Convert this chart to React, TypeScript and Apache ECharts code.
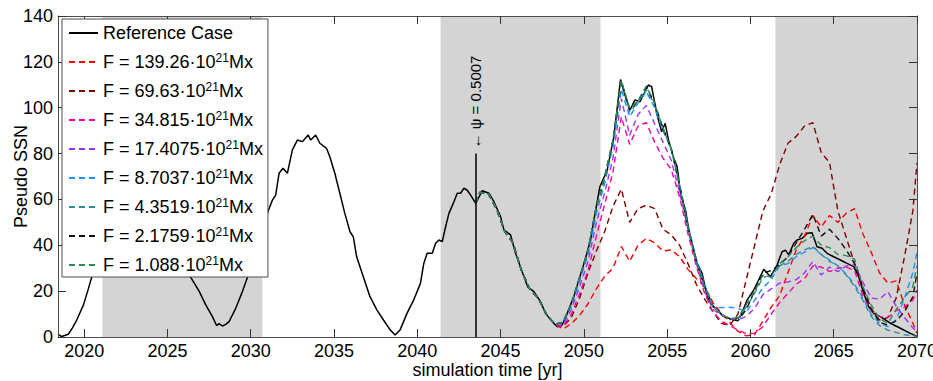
import React, { useEffect, useRef } from 'react';
import * as echarts from 'echarts';

// ---------- data ----------
const refYears = [
  2018.43, 2018.65, 2019.05, 2019.3, 2019.56, 2019.96, 2020.26, 2020.46, 2020.8, 2021.2, 2021.7, 2022.2, 2022.7,
  2023.2, 2023.7, 2024.2, 2024.7, 2025.2, 2025.7, 2026.1, 2026.4, 2026.9, 2027.3, 2027.7, 2027.95, 2028.1, 2028.3,
  2028.5, 2028.7, 2029.1, 2029.5, 2029.8, 2030.2, 2030.6, 2031.03, 2031.3, 2031.5, 2031.7, 2031.94, 2032.2, 2032.5,
  2032.8, 2033.1, 2033.45, 2033.6, 2033.9, 2034.15, 2034.55, 2034.75, 2035.05, 2035.35, 2035.65, 2035.96, 2036.16,
  2036.36, 2036.76, 2037.16, 2037.57, 2037.97, 2038.37, 2038.67, 2038.97, 2039.38, 2039.78, 2040.19, 2040.39,
  2040.59, 2040.9, 2041.1, 2041.3, 2041.5, 2041.7, 2041.9, 2042.2, 2042.4, 2042.6, 2042.8, 2043.0, 2043.2, 2043.51,
  2043.9, 2044.3, 2044.6, 2045.0, 2045.2, 2045.6, 2045.9, 2046.33, 2046.63, 2047.0, 2047.4, 2047.7, 2048.1, 2048.4,
  2048.7, 2049.0, 2049.4, 2049.7, 2050.1, 2050.4, 2050.6, 2050.96, 2051.4, 2051.8, 2052.2, 2052.45, 2052.77, 2053.07,
  2053.37, 2053.87, 2054.07, 2054.37, 2054.67, 2054.88, 2055.08, 2055.4, 2055.6, 2055.8, 2056.1, 2056.3, 2056.6,
  2056.8, 2057.1, 2057.4, 2057.8, 2058.4, 2059.0, 2059.4, 2059.8, 2060.2, 2060.8, 2061.2, 2061.6, 2061.9, 2062.1,
  2062.3, 2062.6, 2062.8, 2063.1, 2063.4, 2063.7, 2064.0, 2064.3, 2064.6, 2065.0, 2065.4, 2065.8, 2066.2, 2066.5,
  2066.8, 2067.1, 2067.4, 2067.8, 2068.4, 2069.0, 2069.6, 2070.0,
];
const refValues = [
  1.2, 0.2, 1.2, 4, 7.5, 14, 21.2, 26.3, 33, 40, 47, 52, 56,
  58, 57, 54, 48, 41, 34, 29, 26, 20, 14, 8.9, 5.0, 5.8, 4.8,
  5.5, 6.7, 12.5, 19.8, 26, 35, 45, 54.6, 59.7, 61.9, 71.4, 73.6, 71.4, 81.6,
  85.9, 85.2, 88.1, 85.9, 88.1, 84.5, 82.3, 78.6, 71.4, 62.7, 53.9, 45.9, 43.7,
  35.0, 26.3, 17.6, 11.8, 7.4, 3.1, 0.9, 3.1, 10.3, 16.1, 23.4, 32.1,
  36.5, 36.5, 40.9, 42.3, 41.6, 48.1, 53.9, 59.0, 62.7, 62.7, 64.9, 64.0, 61.9, 58.3,
  63.8, 62.7, 59.0, 52.5, 46.7, 44.5, 36.5, 27.8, 21.9, 19.8, 15.4, 10.3, 6.7, 4.5,
  5.2, 10.3, 17.6, 24.9, 34.3, 42.3, 51.0, 65.5, 72.8, 87.3, 112.3, 106, 99.0, 103.4,
  102.6, 109.9, 109.2, 97.6, 89.5, 93.2, 85.9, 77.9, 74.3, 62.7, 55.4, 46.7, 37.9,
  32.1, 27.8, 17.6, 13.2, 8.9, 7.4, 8.9, 16.1, 20.5, 29.5, 26.3, 31.4, 37.2, 37.9,
  35.8, 40.9, 42.3, 43.0, 45.2, 45.5, 39.4, 38.7, 36.5, 35.0, 33.6, 32.1, 30.7, 26.3,
  19.1, 13.2, 10.3, 8.9, 6.0, 3.8, 1.6, 0.3,
];

// years of the perturbed runs (start at the perturbation time)
const fYears = [
  2043.5, 2043.75, 2044.25, 2044.75, 2045.25, 2045.75, 2046.25, 2046.75, 2047.25, 2047.75, 2048.25,
  2048.75, 2049.25, 2049.75, 2050.25, 2050.75, 2051.25, 2051.75, 2052.25, 2052.75, 2053.25, 2053.75,
  2054.25, 2054.75, 2055.25, 2055.75, 2056.25, 2056.75, 2057.25, 2057.75, 2058.25, 2058.75, 2059.25,
  2059.75, 2060.25, 2060.75, 2061.25, 2061.75, 2062.25, 2062.75, 2063.25, 2063.75, 2064.25, 2064.75,
  2065.25, 2065.75, 2066.25, 2066.75, 2067.25, 2067.75, 2068.25, 2068.75, 2069.25, 2069.75, 2070,
];
// part common to all perturbed runs (identical to the reference case)
const fHead = [58.3, 63, 62.7, 56, 46, 41, 29, 21, 17, 10, 5.5];

const fLabels = ['139.26', '69.63', '34.815', '17.4075', '8.7037', '4.3519', '2.1759', '1.088'];

const tail139 = [3.5, 5.8, 9.5, 14.5, 21, 26.5, 30, 39.5, 33, 40, 43, 41, 37.5, 38, 35, 29.5, 25.5, 22, 15, 10.3, 6.5, 2.5,
  0.5, 1, 7, 13, 18, 28, 38, 44, 53, 48, 53, 50, 54, 56, 45, 37, 28, 23.5, 24.5, 14, 6, 1.6];
const tail69 = [4.5, 8.5, 17, 28, 37.5, 46, 57, 64.5, 50, 56, 57.5, 56, 47, 44.5, 40, 32, 23, 16.5, 11, 6, 5, 10,
  25, 40, 55, 62.5, 75, 84.5, 87.5, 92, 93.5, 80.5, 76, 55, 43.5, 32, 21.5, 12.5, 7.4, 8.5, 17, 35, 55, 76];
const tail34 = [4.5, 10, 19, 29, 44, 58, 72, 96, 84, 92, 93.5, 85, 78, 73, 61, 45, 31, 19, 11, 7, 5, 3,
  1.5, 1.6, 4.5, 10, 15, 19, 23, 25.5, 31, 30.5, 28.5, 30, 30.5, 29, 18, 11.5, 9, 8.5, 11.5, 13, 16, 20.5];
const tail17 = [5, 12, 22, 33, 50, 63, 78, 104, 88, 97, 101, 93, 85, 77, 63, 47, 32, 20, 12, 9.5, 8, 7.5,
  9, 12.5, 18.5, 21, 23.5, 24, 25, 28, 33, 27, 30.5, 28.5, 31, 31.5, 24, 17, 16.5, 19.8, 13.5, 8.5, 4, 2.5];
const tail8 = [6, 13.5, 24.5, 36, 54, 67, 83, 108, 96, 102, 107, 100, 90, 82, 67, 49, 34, 23, 13, 12.8, 13, 12.5,
  11, 16, 21.5, 25, 31, 32, 35, 37, 39, 36, 33.6, 31, 27.5, 23, 17, 10, 6, 4.5, 7.5, 17, 28, 37];
const tail4 = [6.5, 14.5, 25.5, 37.5, 56, 69, 85, 111, 98, 102.5, 108, 101, 91, 82, 66, 48, 33, 22, 13.5, 10, 8, 8,
  13, 19, 26, 27, 31, 33, 36, 38, 39.5, 36, 33, 31, 27, 22, 16, 9, 5, 3, 2, 1, 0.5, 0.3];
const tail2 = [6.5, 14.5, 26, 38, 57, 70, 86, 111.5, 99, 103, 109, 102, 91, 82, 66, 48, 33, 22, 13.5, 10, 8, 7,
  12, 20, 27.8, 29, 31.5, 35, 41, 47, 53.5, 44, 47, 43, 38, 32, 21.5, 12, 6.5, 5.2, 7, 11, 17.5, 27.8];
const tail1 = [6.5, 14.5, 26, 38, 57, 70, 86, 112, 99.5, 103, 109.5, 102, 91, 82, 66, 48, 33, 22, 13.5, 10, 8, 8.5,
  14, 20, 27, 26, 32, 35, 39, 42, 44, 40, 39, 36, 35.5, 34, 22, 14, 8, 6, 12, 17, 22, 31];
const fTails = [tail139, tail69, tail34, tail17, tail8, tail4, tail2, tail1];

const xTicks = [2020, 2025, 2030, 2035, 2040, 2045, 2050, 2055, 2060, 2065, 2070];
const bandStarts = [2021.1, 2041.4, 2061.5];
const bandEnds = [2030.7, 2051.0, 2070];
const psiYear = 2043.5;
const psiTop = 80;
const psiText = '← ψ = 0.5007';

// ---------- styles ----------
const fColors = ['#ff0000', '#800000', '#ff0099', '#9933ff', '#1e90ff', '#2f8f8f', '#111111', '#2e8b57'];
const FONT = '"Liberation Sans", Arial, Helvetica, sans-serif';
const AXIS = '#4d4d4d';
const X_MIN = 2018.43;
const X_MAX = 2070;

export default function App() {
  const ref = useRef<HTMLDivElement>(null);

  useEffect(() => {
    if (!ref.current) return;
    const chart = echarts.init(ref.current, undefined, { renderer: 'svg' });

    const refName = 'Reference Case';
    const fNames = fLabels.map((l) => `F = ${l}·10^21Mx`);

    const series: any[] = [
      {
        name: refName,
        type: 'line',
        data: refYears.map((x, i) => [x, refValues[i]]),
        symbol: 'none',
        lineStyle: { color: '#000', width: 1.5 },
        itemStyle: { color: '#000' },
        z: 2,
        markArea: {
          silent: true,
          itemStyle: { color: '#d4d4d4' },
          data: bandStarts.map((s, i) => [{ xAxis: s }, { xAxis: bandEnds[i] }]),
        },
        markLine: {
          silent: true,
          symbol: ['none', 'none'],
          data: [
            [
              { coord: [psiYear, 0], lineStyle: { color: '#000', width: 1.5, type: 'solid' }, label: { show: false } },
              { coord: [psiYear, psiTop] },
            ],
            [
              {
                coord: [psiYear, psiTop + 1],
                lineStyle: { color: 'rgba(0,0,0,0)', width: 0 },
                label: {
                  show: true,
                  position: 'insideMiddle',
                  formatter: psiText,
                  fontSize: 15,
                  fontFamily: FONT,
                  color: '#000',
                  opacity: 1,
                },
              },
              { coord: [psiYear, psiTop + 44] },
            ],
          ],
        },
      },
    ];

    fNames.forEach((name, k) => {
      const vals = fHead.concat(fTails[k]);
      series.push({
        name,
        type: 'line',
        data: fYears.map((x, i) => [x, vals[i]]),
        symbol: 'none',
        lineStyle: { color: fColors[k], width: 1.4, type: [6, 4] },
        itemStyle: { color: fColors[k] },
        z: 2,
      });
    });

    const tick = { show: true, inside: true, length: 8, lineStyle: { color: '#333333', width: 1 } };

    const option: any = {
      animation: false,
      backgroundColor: '#ffffff',
      textStyle: { fontFamily: FONT },
      grid: { left: 58, right: 16, top: 16, bottom: 44, containLabel: false, outerBoundsMode: 'none' },
      xAxis: [
        {
          type: 'value',
          min: X_MIN,
          max: X_MAX,
          position: 'bottom',
          z: 3,
          axisLine: { show: true, onZero: false, lineStyle: { color: AXIS, width: 1 } },
          axisTick: { ...tick, customValues: xTicks },
          axisLabel: {
            customValues: xTicks,
            formatter: (v: number) => String(v),
            color: '#000',
            fontSize: 18,
            fontFamily: FONT,
            margin: 5,
          },
          splitLine: { show: false },
          name: 'simulation time [yr]',
          nameLocation: 'middle',
          nameGap: 24,
          nameMoveOverlap: false,
          nameTextStyle: { fontSize: 18, color: '#000', fontFamily: FONT },
        },
        {
          type: 'value',
          min: X_MIN,
          max: X_MAX,
          position: 'top',
          z: 3,
          axisLine: { show: true, onZero: false, lineStyle: { color: AXIS, width: 1 } },
          axisTick: { ...tick, customValues: xTicks },
          axisLabel: { show: false, customValues: xTicks },
          splitLine: { show: false },
        },
      ],
      yAxis: [
        {
          type: 'value',
          min: 0,
          max: 140,
          interval: 20,
          position: 'left',
          z: 3,
          axisLine: { show: true, onZero: false, lineStyle: { color: AXIS, width: 1 } },
          axisTick: tick,
          axisLabel: { color: '#000', fontSize: 18, fontFamily: FONT, margin: 5 },
          splitLine: { show: false },
          name: 'Pseudo SSN',
          nameLocation: 'middle',
          nameGap: 28,
          nameMoveOverlap: false,
          nameRotate: 90,
          nameTextStyle: { fontSize: 18, color: '#000', fontFamily: FONT },
        },
        {
          type: 'value',
          min: 0,
          max: 140,
          interval: 20,
          position: 'right',
          z: 3,
          axisLine: { show: true, onZero: false, lineStyle: { color: AXIS, width: 1 } },
          axisTick: tick,
          axisLabel: { show: false },
          splitLine: { show: false },
        },
      ],
      legend: {
        orient: 'vertical',
        left: 62,
        top: 19,
        z: 6,
        padding: [4, 5, 2, 6],
        itemWidth: 29,
        itemHeight: 14,
        itemGap: 9,
        itemTextGap: 2,
        backgroundColor: '#ffffff',
        borderColor: AXIS,
        borderWidth: 1,
        borderRadius: 0,
        selectedMode: false,
        itemStyle: { color: 'rgba(0,0,0,0)', borderWidth: 0, opacity: 0 },
        data: [refName, ...fNames],
        formatter: (name: string) => name.replace('^21', '{sup|21}'),
        textStyle: {
          fontSize: 18,
          fontFamily: FONT,
          color: '#000',
          lineHeight: 20,
          rich: {
            sup: { fontSize: 12, fontFamily: FONT, color: '#000', verticalAlign: 'top', lineHeight: 12 },
          },
        },
      },
      series,
    };

    chart.setOption(option);
    return () => chart.dispose();
  }, []);

  return (
    <div
      ref={ref}
      style={{ position: 'fixed', left: 0, top: 0, width: 933, height: 381, background: '#fff' }}
    />
  );
}
